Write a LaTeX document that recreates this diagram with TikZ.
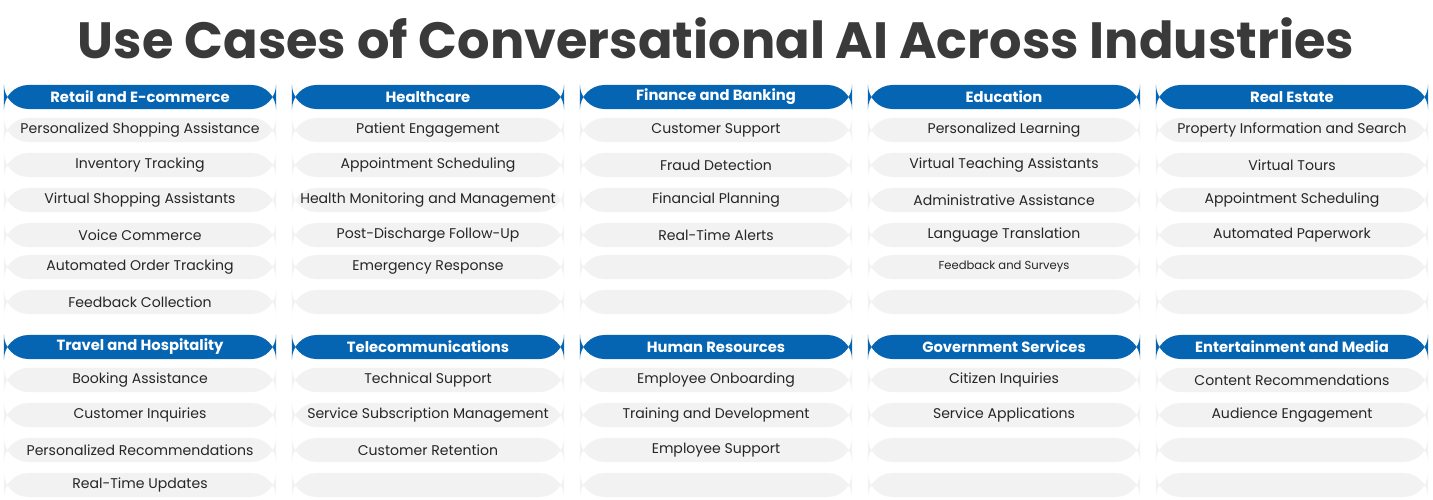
\documentclass[tikz,border=0pt]{standalone}
\usepackage{fontspec}
\setmainfont{Poppins}
\definecolor{headblue}{HTML}{0565B2}
\definecolor{itemgray}{HTML}{F2F2F2}
\definecolor{titlegray}{HTML}{3A3A3A}
\newcommand\industry[4]{%
\node[Head] (h-#1-#2) at (#1,#2) {#3};
\foreach \entry [count=\k] in {#4} {
\pgfmathsetmacro\dy{33+35*(\k-1)-(\k>4)*3}
\node[Item] (i-#1-#2-\k) at (#1,#2+\dy) {\entry};
}}
\begin{document}
\begin{tikzpicture}
[
x=0.01cm, y=-0.01cm,
Head/.style={rectangle,rounded corners=7pt,fill=headblue,text=white,font=\fontsize{4.2pt}{5pt}\selectfont\bfseries,minimum width=2.72cm,minimum height=0.24cm,inner sep=0pt},
Item/.style={rectangle,rounded corners=7pt,fill=itemgray,text=black!85,font=\fontsize{4pt}{5pt}\selectfont,minimum width=2.72cm,minimum height=0.24cm,inner sep=0pt},
Title/.style={text=titlegray,font=\fontsize{14.5pt}{16pt}\selectfont\bfseries},
]
\useasboundingbox[fill=white] (0,0) rectangle (1433,500);

\node[Title] (title) at (716,38) {Use Cases of Conversational AI Across Industries};

% first block
\industry{140}{97}{Retail and E-commerce}{Personalized Shopping Assistance,Inventory Tracking,Virtual Shopping Assistants,Voice Commerce,Automated Order Tracking,Feedback Collection}
\industry{428}{97}{Healthcare}{Patient Engagement,Appointment Scheduling,Health Monitoring and Management,Post-Discharge Follow-Up,Emergency Response,{}}
\industry{716}{97}{Finance and Banking}{Customer Support,Fraud Detection,Financial Planning,Real-Time Alerts,{},{}}
\industry{1004}{97}{Education}{Personalized Learning,Virtual Teaching Assistants,Administrative Assistance,Language Translation,{\fontsize{3.3pt}{4pt}\selectfont Feedback and Surveys},{}}
\industry{1292}{97}{Real Estate}{Property Information and Search,Virtual Tours,Appointment Scheduling,Automated Paperwork,{},{}}

% second block
\industry{140}{347}{Travel and Hospitality}{Booking Assistance,Customer Inquiries,Personalized Recommendations,Real-Time Updates}
\industry{428}{347}{Telecommunications}{Technical Support,Service Subscription Management,Customer Retention,{}}
\industry{716}{347}{Human Resources}{Employee Onboarding,Training and Development,Employee Support,{}}
\industry{1004}{347}{Government Services}{Citizen Inquiries,Service Applications,{},{}}
\industry{1292}{347}{Entertainment and Media}{Content Recommendations,Audience Engagement,{},{}}

\end{tikzpicture}
\end{document}
